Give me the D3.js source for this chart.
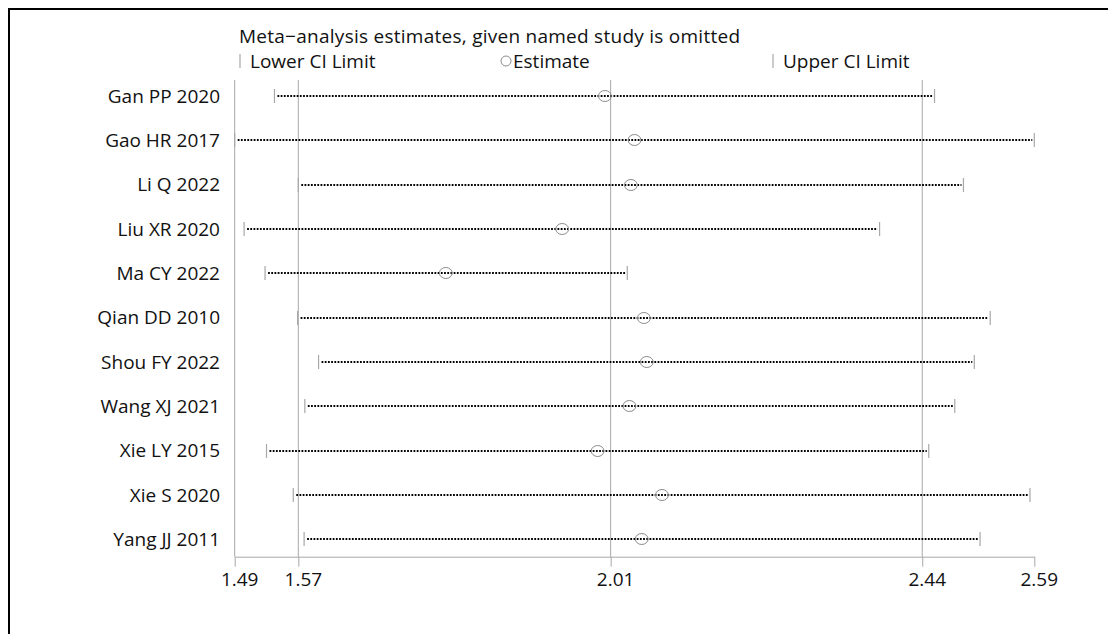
<!DOCTYPE html>
<html>
<head>
<meta charset="utf-8">
<script src="https://cdn.jsdelivr.net/npm/d3@7"></script>
<style>
  body { margin: 0; background: #fff; }
  text { font-family: "Open Sans", sans-serif; fill: #111; }
</style>
</head>
<body>
<div id="chart"></div>
<script>
// influence plot: pooled estimate when each study is left out
const studies = ["Gan PP 2020", "Gao HR 2017", "Li Q 2022", "Liu XR 2020", "Ma CY 2022",
  "Qian DD 2010", "Shou FY 2022", "Wang XJ 2021", "Xie LY 2015", "Xie S 2020", "Yang JJ 2011"]
const lower    = [1.541, 1.486, 1.574, 1.499, 1.528, 1.573, 1.602, 1.583, 1.530, 1.567, 1.582]
const estimate = [1.998, 2.039, 2.034, 1.939, 1.778, 2.052, 2.056, 2.032, 1.988, 2.077, 2.049]
const upper    = [2.454, 2.592, 2.494, 2.378, 2.029, 2.531, 2.509, 2.482, 2.446, 2.586, 2.517]
// min lower, overall lower CI, overall estimate, overall upper CI, max upper
const tickVals = [1.486, 1.574, 2.006, 2.437, 2.592]
const gridVals = [1.574, 2.006, 2.437]

const W = 1108, H = 634
const plot = {left: 234.7, right: 1034.3, top: 80, bottom: 556.7}
const fs = "19px"

const svg = d3.select("#chart").append("svg")
  .attr("width", W).attr("height", H)

// frame, only top and left edges show in the picture
svg.append("line").attr("x1", 9).attr("x2", W).attr("y1", 9).attr("y2", 9)
  .attr("stroke", "#000").attr("stroke-width", 2)
svg.append("line").attr("x1", 9).attr("x2", 9).attr("y1", 8).attr("y2", H)
  .attr("stroke", "#000").attr("stroke-width", 2)

const x = d3.scaleLinear().domain([tickVals[0], tickVals[4]]).range([plot.left, plot.right])
const y = d3.scalePoint().domain(studies).range([96, 539.3])
const yr = s => Math.round(y(s))

const rows = studies.map((s, i) => ({name: s, lo: lower[i], est: estimate[i], hi: upper[i]}))

// gridlines
svg.append("g").selectAll("line").data(gridVals).join("line")
  .attr("x1", d => x(d)).attr("x2", d => x(d))
  .attr("y1", plot.top).attr("y2", plot.bottom)
  .attr("stroke", "#a8a8a8").attr("stroke-width", 1)

// left axis line
svg.append("line").attr("x1", plot.left).attr("x2", plot.left)
  .attr("y1", plot.top).attr("y2", plot.bottom)
  .attr("stroke", "#a8a8a8").attr("stroke-width", 1)

// bottom axis
const xAxis = svg.append("g")
  .attr("transform", `translate(0, ${plot.bottom})`)
  .call(d3.axisBottom(x).tickValues(tickVals).tickFormat(d3.format(".2f")).tickSize(10).tickSizeOuter(0))
xAxis.select(".domain").attr("stroke", "#a8a8a8")
xAxis.selectAll(".tick line").attr("stroke", "#a8a8a8")
xAxis.selectAll(".tick text")
  .attr("dx", 4.5).attr("dy", "0.85em")
  .style("font-size", fs).style("font-family", "'Open Sans', sans-serif").attr("fill", "#111")

// CI lines (dotted)
svg.append("g").selectAll("line").data(rows).join("line")
  .attr("x1", d => x(d.lo) + 3).attr("x2", d => x(d.hi) - 2)
  .attr("y1", d => yr(d.name)).attr("y2", d => yr(d.name))
  .attr("stroke", "#000").attr("stroke-width", 2)
  .attr("stroke-dasharray", "1.8 1.4")

// caps
const caps = svg.append("g").attr("stroke", "#a8a8a8").attr("stroke-width", 1.2)
caps.selectAll(".lo").data(rows).join("line").attr("class", "lo")
  .attr("x1", d => x(d.lo)).attr("x2", d => x(d.lo))
  .attr("y1", d => yr(d.name) - 7).attr("y2", d => yr(d.name) + 7)
caps.selectAll(".hi").data(rows).join("line").attr("class", "hi")
  .attr("x1", d => x(d.hi)).attr("x2", d => x(d.hi))
  .attr("y1", d => yr(d.name) - 7).attr("y2", d => yr(d.name) + 7)

// estimates
svg.append("g").selectAll("ellipse").data(rows).join("ellipse")
  .attr("cx", d => x(d.est)).attr("cy", d => yr(d.name))
  .attr("rx", 6.4).attr("ry", 5.5)
  .attr("fill", "none").attr("stroke", "#8c8c8c").attr("stroke-width", 1)

// study labels
svg.append("g").selectAll("text").data(rows).join("text")
  .attr("x", 220).attr("y", d => y(d.name)).attr("dy", "0.35em")
  .attr("text-anchor", "end").style("font-size", fs)
  .text(d => d.name)

// title and legend
svg.append("text").attr("x", 239).attr("y", 43).style("font-size", fs)
  .attr("textLength", 501)
  .text("Meta\u2212analysis estimates, given named study is omitted")

const legY = 61
svg.append("line").attr("x1", 240).attr("x2", 240).attr("y1", legY - 7).attr("y2", legY + 7)
  .attr("stroke", "#a8a8a8").attr("stroke-width", 1.2)
svg.append("text").attr("x", 250).attr("y", legY).attr("dy", "0.35em").style("font-size", fs)
  .text("Lower CI Limit")
svg.append("circle").attr("cx", 506).attr("cy", legY).attr("r", 5)
  .attr("fill", "none").attr("stroke", "#8c8c8c").attr("stroke-width", 1)
svg.append("text").attr("x", 513).attr("y", legY).attr("dy", "0.35em").style("font-size", fs)
  .text("Estimate")
svg.append("line").attr("x1", 773).attr("x2", 773).attr("y1", legY - 7).attr("y2", legY + 7)
  .attr("stroke", "#a8a8a8").attr("stroke-width", 1.2)
svg.append("text").attr("x", 783).attr("y", legY).attr("dy", "0.35em").style("font-size", fs)
  .text("Upper CI Limit")
</script>
</body>
</html>
